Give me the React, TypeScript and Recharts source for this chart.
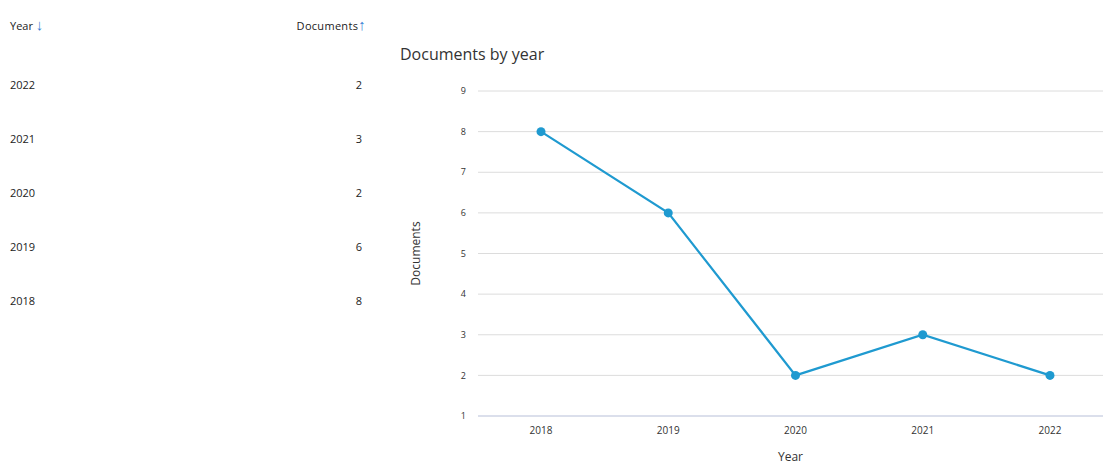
import { LineChart, Line, XAxis, YAxis, CartesianGrid } from "recharts"

const years = ["2018", "2019", "2020", "2021", "2022"]
const documents = [8, 6, 2, 3, 2]
const yTicks = [1, 2, 3, 4, 5, 6, 7, 8, 9]

const chartData = years.map((year, i) => ({ year, documents: documents[i] }))
const tableRows = [...chartData].reverse()

const FONT = "'Open Sans', 'Noto Sans', sans-serif"
const LINE = "#1f9ad0"

export default function App() {
  return (
    <div
      style={{
        position: "absolute",
        left: 0,
        top: 0,
        width: 1103,
        height: 466,
        background: "#fff",
        fontFamily: FONT,
        color: "#222",
        overflow: "hidden",
      }}
    >
      {/* table */}
      <div style={{ position: "absolute", left: 10, top: 15, width: 356, fontSize: 11 }}>
        <div style={{ display: "flex", justifyContent: "space-between", height: 18, alignItems: "center" }}>
          <span>
            Year <span style={{ color: "#3b7fd4", fontSize: 15 }}>↓</span>
          </span>
          <span style={{ letterSpacing: 0.3 }}>
            Documents<span style={{ color: "#3b7fd4", fontSize: 15 }}>↑</span>
          </span>
        </div>
        {tableRows.map((r, i) => (
          <div
            key={r.year}
            style={{
              position: "absolute",
              top: 60 + i * 54,
              left: 0,
              width: 352,
              display: "flex",
              justifyContent: "space-between",
              height: 18,
              alignItems: "center",
            }}
          >
            <span>{r.year}</span>
            <span>{r.documents}</span>
          </div>
        ))}
      </div>

      {/* title */}
      <div style={{ position: "absolute", left: 400, top: 43, fontSize: 16, color: "#333" }}>
        Documents by year
      </div>

      <div style={{ position: "absolute", left: 380, top: 70 }}>
        <LineChart
          width={723}
          height={396}
          data={chartData}
          margin={{ top: 21, right: 0, bottom: 0, left: 0 }}
        >
          <CartesianGrid vertical={false} stroke="#dcdcdc" />
          <XAxis
            dataKey="year"
            height={50}
            padding={{ left: 63, right: 53 }}
            axisLine={{ stroke: "#c9d1ea" }}
            tickLine={false}
            tickMargin={5}
            tick={{ fill: "#333", fontSize: 10, fontFamily: FONT }}
            label={{
              value: "Year",
              position: "insideBottom",
              offset: 5,
              style: { fill: "#333", fontSize: 12, fontFamily: FONT },
            }}
          />
          <YAxis
            width={98}
            domain={[1, 9]}
            ticks={yTicks}
            interval={0}
            axisLine={false}
            tickLine={false}
            tickMargin={6}
            tick={{ fill: "#333", fontSize: 9, fontFamily: FONT }}
            label={{
              value: "Documents",
              angle: -90,
              position: "insideLeft",
              offset: 36,
              style: { fill: "#333", fontSize: 12, fontFamily: FONT, textAnchor: "middle" },
            }}
          />
          <Line
            type="linear"
            dataKey="documents"
            stroke={LINE}
            strokeWidth={2.2}
            dot={{ r: 4.5, fill: LINE, stroke: LINE, strokeWidth: 0 }}
            activeDot={false}
            isAnimationActive={false}
          />
        </LineChart>
      </div>
    </div>
  )
}
